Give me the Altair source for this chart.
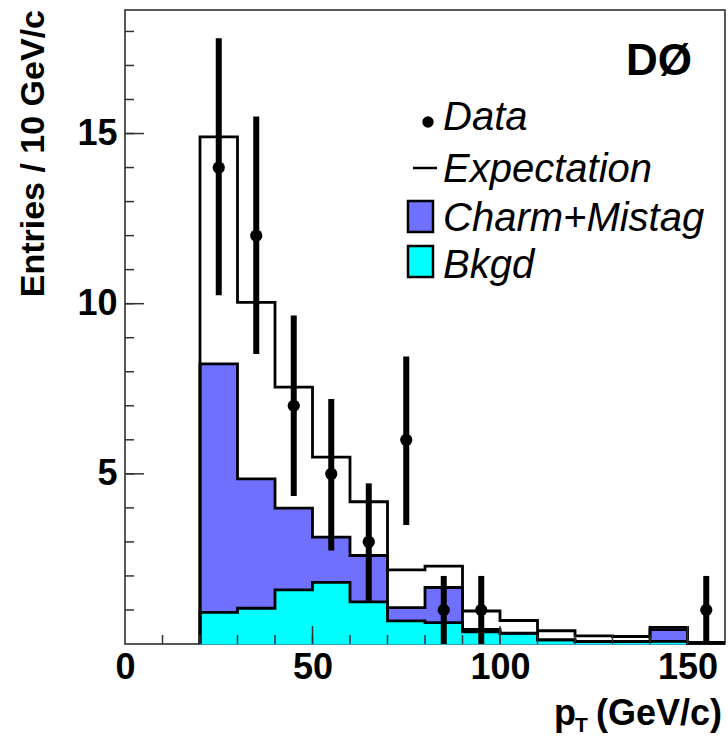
import altair as alt
import pandas as pd

# ---------------- data ----------------
bin_lo = [20, 30, 40, 50, 60, 70, 80, 90, 100, 110, 120, 130, 140, 150]
bin_hi = [30, 40, 50, 60, 70, 80, 90, 100, 110, 120, 130, 140, 150, 160]
expectation = [14.9, 10.04, 7.55, 5.49, 4.18, 2.18, 2.29, 0.97, 0.69, 0.39, 0.24, 0.22, 0.49, 0.05]
charm_stack = [8.23, 4.85, 3.99, 3.14, 2.60, 1.07, 1.66, 0.43, 0.32, 0.12, 0.08, 0.08, 0.42, 0.03]
bkgd = [0.93, 1.05, 1.59, 1.81, 1.24, 0.68, 0.63, 0.36, 0.31, 0.12, 0.07, 0.07, 0.08, 0.02]

data_x = [25, 35, 45, 55, 65, 75, 85, 95, 155]
data_y = [14, 12, 7, 5, 3, 6, 1, 1, 1]
data_lo = [10.25, 8.52, 4.35, 2.75, 1.27, 3.50, 0.0, 0.0, 0.0]
data_hi = [17.80, 15.50, 9.65, 7.20, 4.72, 8.45, 2.0, 2.0, 2.0]

y_minor = list(range(1, 19))
y_major = [5, 10, 15]
x_minor = list(range(10, 160, 10))
x_major = [50, 100, 150]
x_labels = [0, 50, 100, 150]

legend_labels = ["Data", "Expectation", "Charm+Mistag", "Bkgd"]

# ---------------- layout / style ----------------
W, H = 600, 634
XMAX, YMAX = 160, 18.63
FONT = "Liberation Sans"
BLUE = "#7070ff"
CYAN = "#00ffff"

xs = alt.Scale(domain=[0, XMAX], nice=False, zero=False)
ys = alt.Scale(domain=[0, YMAX], nice=False, zero=False)

xax = alt.Axis(values=x_labels, ticks=False, domain=False, grid=False,
               labelFont=FONT, labelFontSize=36, labelFontWeight="bold",
               labelColor="black", labelPadding=6, labelFlush=False,
               labelOverlap=False, title=None, format="d")
yax = alt.Axis(values=y_major, ticks=False, domain=False, grid=False,
               labelFont=FONT, labelFontSize=36, labelFontWeight="bold",
               labelColor="black", labelPadding=8, labelOverlap=False,
               title=None, format="d")

bins = pd.DataFrame({"lo": bin_lo, "hi": bin_hi, "exp": expectation,
                     "charm": charm_stack, "bkgd": bkgd})


def steps(values):
    rows = [{"i": 0, "x": bin_lo[0], "y": 0.0}]
    for k, v in enumerate(values):
        rows.append({"i": k + 1, "x": bin_lo[k], "y": v})
    rows.append({"i": len(values) + 1, "x": bin_hi[-1], "y": values[-1]})
    return rows


step_rows = []
for name, vals in [("exp", expectation), ("charm", charm_stack), ("bkgd", bkgd)]:
    for r in steps(vals):
        r["s"] = name
        step_rows.append(r)
step_df = pd.DataFrame(step_rows)

pts = pd.DataFrame({"x": data_x, "y": data_y, "lo": data_lo, "hi": data_hi})

base = alt.Chart(bins)

charm_fill = base.mark_rect(color=BLUE, stroke=BLUE, strokeWidth=0.8).encode(
    x=alt.X("lo:Q", scale=xs, axis=xax), x2="hi:Q",
    y=alt.Y("charm:Q", scale=ys, axis=yax), y2=alt.datum(0),
)

bkgd_fill = base.mark_rect(color=CYAN, stroke=CYAN, strokeWidth=0.8).encode(
    x=alt.X("lo:Q", scale=xs, axis=xax), x2="hi:Q",
    y=alt.Y("bkgd:Q", scale=ys, axis=yax), y2=alt.datum(0),
)

outline = alt.Chart(step_df).mark_line(
    interpolate="step-after", color="black", strokeWidth=2.8
).encode(
    x=alt.X("x:Q", scale=xs, axis=xax),
    y=alt.Y("y:Q", scale=ys, axis=yax),
    detail="s:N",
    order="i:Q",
)

errbars = alt.Chart(pts).mark_rule(color="black", strokeWidth=6).encode(
    x=alt.X("x:Q", scale=xs, axis=xax),
    y=alt.Y("lo:Q", scale=ys, axis=yax), y2="hi:Q",
)
dots = alt.Chart(pts).mark_circle(color="black", opacity=1, size=150).encode(
    x=alt.X("x:Q", scale=xs, axis=xax),
    y=alt.Y("y:Q", scale=ys, axis=yax),
)

# inward ticks
TICK = "#333333"
ytick_minor = alt.Chart(pd.DataFrame({"v": y_minor})).mark_rule(color=TICK, strokeWidth=1.5).encode(
    y=alt.Y("v:Q", scale=ys, axis=yax), x=alt.value(0), x2=alt.value(9))
ytick_major = alt.Chart(pd.DataFrame({"v": y_major})).mark_rule(color=TICK, strokeWidth=1.5).encode(
    y=alt.Y("v:Q", scale=ys, axis=yax), x=alt.value(0), x2=alt.value(19))
xtick_minor = alt.Chart(pd.DataFrame({"v": x_minor})).mark_rule(color=TICK, strokeWidth=1.5).encode(
    x=alt.X("v:Q", scale=xs, axis=xax), y=alt.value(H), y2=alt.value(H - 9))
xtick_major = alt.Chart(pd.DataFrame({"v": x_major})).mark_rule(color=TICK, strokeWidth=1.5).encode(
    x=alt.X("v:Q", scale=xs, axis=xax), y=alt.value(H), y2=alt.value(H - 18))

# titles
ytitle = alt.Chart(pd.DataFrame({"t": ["Entries / 10 GeV/c"]})).mark_text(
    font=FONT, fontSize=34, fontWeight="bold", angle=270, align="right", baseline="middle",
    color="black").encode(text="t:N", x=alt.value(-91), y=alt.value(0))
xt_p = alt.Chart(pd.DataFrame({"t": ["p"]})).mark_text(
    font=FONT, fontSize=36, fontWeight="bold", align="left", baseline="alphabetic",
    color="black").encode(text="t:N", x=alt.value(429), y=alt.value(715))
xt_T = alt.Chart(pd.DataFrame({"t": ["T"]})).mark_text(
    font=FONT, fontSize=21, fontWeight="bold", align="left", baseline="alphabetic",
    color="black").encode(text="t:N", x=alt.value(450), y=alt.value(722))
xt_rest = alt.Chart(pd.DataFrame({"t": ["(GeV/c)"]})).mark_text(
    font=FONT, fontSize=36, fontWeight="bold", align="right", baseline="alphabetic",
    color="black").encode(text="t:N", x=alt.value(597), y=alt.value(715))

# experiment label and legend
d0 = alt.Chart(pd.DataFrame({"t": ["DØ"]})).mark_text(
    font=FONT, fontSize=44, fontWeight="bold", align="right", baseline="alphabetic",
    color="black").encode(text="t:N", x=alt.value(567), y=alt.value(65))

leg_text_layers = []
for lab, yb in zip(legend_labels, [120, 172, 221, 268]):
    leg_text_layers.append(
        alt.Chart(pd.DataFrame({"t": [lab]})).mark_text(
            font=FONT, fontSize=40, fontStyle="italic", align="left", baseline="alphabetic",
            color="black").encode(text="t:N", x=alt.value(318), y=alt.value(yb)))

leg_dot = alt.Chart(pd.DataFrame({"t": ["Data"]})).mark_circle(color="black", opacity=1, size=130).encode(
    x=alt.value(303), y=alt.value(112))
leg_line = alt.Chart(pd.DataFrame({"t": ["Expectation"]})).mark_rule(color="black", strokeWidth=2.5).encode(
    x=alt.value(288), x2=alt.value(312), y=alt.value(158))
leg_charm = alt.Chart(pd.DataFrame({"t": ["Charm+Mistag"]})).mark_rect(
    color=BLUE, stroke="black", strokeWidth=2.5).encode(
    x=alt.value(283), x2=alt.value(308), y=alt.value(191), y2=alt.value(222))
leg_bkgd = alt.Chart(pd.DataFrame({"t": ["Bkgd"]})).mark_rect(
    color=CYAN, stroke="black", strokeWidth=2.5).encode(
    x=alt.value(283), x2=alt.value(308), y=alt.value(236), y2=alt.value(267))

chart = alt.layer(
    charm_fill, bkgd_fill, outline, errbars, dots,
    ytick_minor, ytick_major, xtick_minor, xtick_major,
    ytitle, xt_p, xt_T, xt_rest, d0, *leg_text_layers,
    leg_dot, leg_line, leg_charm, leg_bkgd,
).properties(
    width=W, height=H,
    autosize=alt.AutoSizeParams(type="none"),
    padding={"left": 125, "top": 10, "right": 3, "bottom": 94},
    background="white",
).configure_view(stroke="#222222", strokeWidth=1.5)

chart.save("out.html", embed_options={"renderer": "svg", "actions": False})
